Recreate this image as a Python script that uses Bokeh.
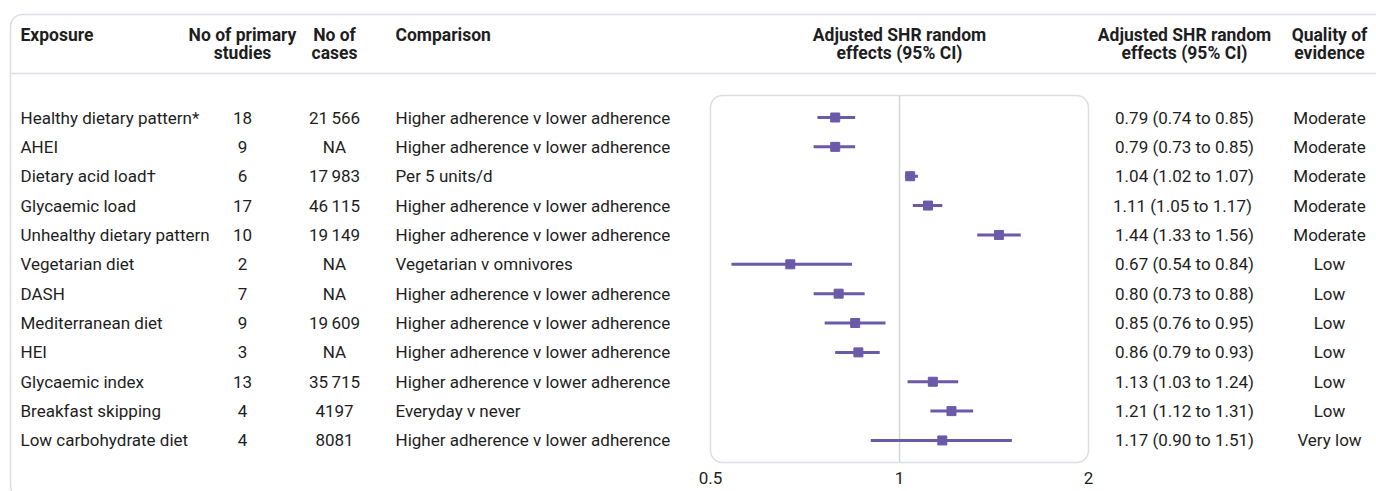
import math
from bokeh.plotting import figure
from bokeh.models import Range1d, LogScale
from bokeh.core.properties import value
from bokeh.embed import file_html
from bokeh.resources import INLINE

# ---------------- data ----------------
exposures = ["Healthy dietary pattern*", "AHEI", "Dietary acid load\u2020", "Glycaemic load",
             "Unhealthy dietary pattern", "Vegetarian diet", "DASH", "Mediterranean diet",
             "HEI", "Glycaemic index", "Breakfast skipping", "Low carbohydrate diet"]
n_studies = ["18", "9", "6", "17", "10", "2", "7", "9", "3", "13", "4", "4"]
n_cases = ["21\u2009566", "NA", "17\u2009983", "46\u2009115", "19\u2009149", "NA", "NA",
           "19\u2009609", "NA", "35\u2009715", "4197", "8081"]
comparisons = ["Higher adherence v lower adherence", "Higher adherence v lower adherence",
               "Per 5 units/d", "Higher adherence v lower adherence",
               "Higher adherence v lower adherence", "Vegetarian v omnivores",
               "Higher adherence v lower adherence", "Higher adherence v lower adherence",
               "Higher adherence v lower adherence", "Higher adherence v lower adherence",
               "Everyday v never", "Higher adherence v lower adherence"]
shr = [0.79, 0.79, 1.04, 1.11, 1.44, 0.67, 0.80, 0.85, 0.86, 1.13, 1.21, 1.17]
ci_lo = [0.74, 0.73, 1.02, 1.05, 1.33, 0.54, 0.73, 0.76, 0.79, 1.03, 1.12, 0.90]
ci_hi = [0.85, 0.85, 1.07, 1.17, 1.56, 0.84, 0.88, 0.95, 0.93, 1.24, 1.31, 1.51]
ci_text = ["0.79 (0.74 to 0.85)", "0.79 (0.73 to 0.85)", "1.04 (1.02 to 1.07)",
           "1.11 (1.05 to  1.17)", "1.44 (1.33 to 1.56)", "0.67 (0.54 to 0.84)",
           "0.80 (0.73 to 0.88)", "0.85 (0.76 to 0.95)", "0.86 (0.79 to 0.93)",
           "1.13 (1.03 to 1.24)", "1.21 (1.12 to 1.31)", "1.17 (0.90 to 1.51)"]
quality = ["Moderate", "Moderate", "Moderate", "Moderate", "Moderate", "Low", "Low", "Low",
           "Low", "Low", "Low", "Very low"]
axis_ticks = [0.5, 1, 2]
axis_tick_labels = ["0.5", "1", "2"]

header_line1 = ["Exposure", "No of primary", "No of", "Comparison", "Adjusted SHR random",
                "Adjusted SHR random", "Quality of"]
header_line2 = ["", "studies", "cases", "", "effects (95% CI)", "effects (95% CI)", "evidence"]

# ---------------- layout ----------------
FONT = "Roboto"
TXT = "#1e1e1e"
PURPLE = "#6a5aa8"
BORDER = "#dcdee3"
FW, FH = 1376, 491
ROW0, DY = 117.0, 29.36


def ys(sy):
    return (sy - ROW0) / DY


rows = list(range(len(exposures)))

# log range mapped so 0.5 -> screen 710 and 2 -> screen 1088
k = math.log(4) / (1088 - 710)
lstart = 0.5 * math.exp(-710 * k)
lend = 2 * math.exp((FW - 1088) * k)

p = figure(frame_width=FW, frame_height=FH, x_range=Range1d(0, FW),
           y_range=Range1d(ys(FH), ys(0)),
           x_axis_type=None, y_axis_type=None, output_backend="svg",
           toolbar_location=None, min_border=0)
p.outline_line_color = None
p.grid.visible = False
p.extra_x_ranges = {"log": Range1d(lstart, lend)}
p.extra_x_scales = {"log": LogScale()}

# outer card
p.quad(left=10, right=1500, top=ys(14), bottom=ys(497), fill_color=None,
       line_color=BORDER, line_width=1.5, border_radius=12)
# header separator
p.segment(x0=10, x1=1500, y0=ys(73), y1=ys(73), line_color=BORDER, line_width=1.5)

# forest plot box
p.quad(left=0.5, right=2, top=ys(95), bottom=ys(462), x_range_name="log", fill_color=None,
       line_color=BORDER, line_width=1.5, border_radius=12)
p.segment(x0=1, x1=1, y0=ys(95), y1=ys(462), x_range_name="log", line_color="#d3d5da",
          line_width=1.5)

p.segment(x0=ci_lo, x1=ci_hi, y0=rows, y1=rows, x_range_name="log", line_color=PURPLE,
          line_width=3)
p.scatter(x=shr, y=rows, marker="square", size=9, fill_color=PURPLE, line_color=PURPLE,
          x_range_name="log")

# x-axis tick labels placed through the log scale
p.text(x=axis_ticks, y=ys(477), text=axis_tick_labels, x_range_name="log",
       text_font=value(FONT), text_font_size="17px", text_color=TXT,
       text_baseline="middle", text_align="center")

common = dict(text_font=value(FONT), text_font_size="17px", text_color=TXT,
              text_baseline="middle")
p.text(x=20, y=rows, text=exposures, text_align="left", **common)
p.text(x=242, y=rows, text=n_studies, text_align="center", **common)
p.text(x=334, y=rows, text=n_cases, text_align="center", **common)
p.text(x=395, y=rows, text=comparisons, text_align="left", **common)
p.text(x=1184, y=rows, text=ci_text, text_align="center", **common)
p.text(x=1329, y=rows, text=quality, text_align="center", **common)

# headers
hx = [20, 242, 334, 395, 899, 1184, 1329]
ha = ["left", "center", "center", "left", "center", "center", "center"]
hcommon = dict(text_font=value(FONT), text_font_size="17.5px", text_color=TXT,
               text_baseline="middle", text_font_style="bold")
for x, a, t1, t2 in zip(hx, ha, header_line1, header_line2):
    p.text(x=[x], y=[ys(34)], text=[t1], text_align=a, **hcommon)
    if t2:
        p.text(x=[x], y=[ys(52)], text=[t2], text_align=a, **hcommon)

open("out.html", "w").write(file_html(p, INLINE))
